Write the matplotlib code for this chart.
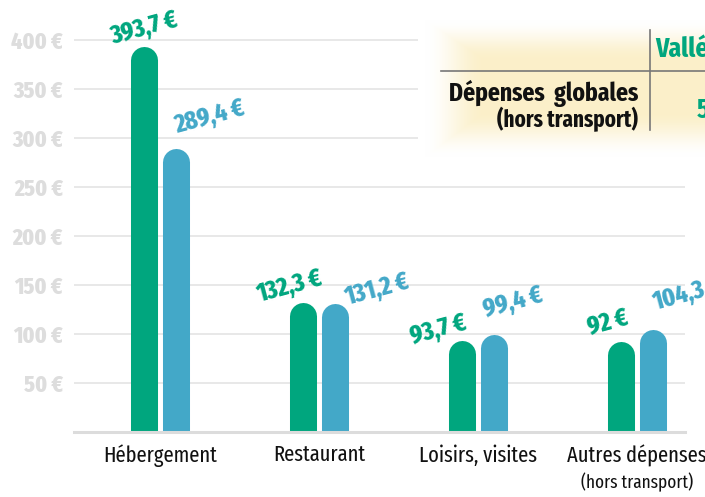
import numpy as np
import matplotlib.pyplot as plt
from matplotlib.lines import Line2D

# data
categories = ['Hébergement', 'Restaurant', 'Loisirs, visites', 'Autres dépenses']
green_vals = [393.7, 132.3, 93.7, 92]
blue_vals = [289.4, 131.2, 99.4, 104.3]
green_txt = ['393,7 €', '132,3 €', '93,7 €', '92 €']
blue_txt = ['289,4 €', '131,2 €', '99,4 €', '104,3 €']
yticks = [50, 100, 150, 200, 250, 300, 350, 400]

GREEN = '#00a67e'
BLUE = '#43a8c8'
plt.rcParams['font.family'] = ['Fira Sans Extra Condensed', 'DejaVu Sans']

fig = plt.figure(figsize=(7.05, 4.97), dpi=100)
ax = fig.add_axes([74 / 705, 65 / 497, 611 / 705, 432 / 497])
ax.set_xlim(-0.541, 3.302)
ax.set_ylim(0, 440.8)
for s in ax.spines.values():
    s.set_visible(False)

# grid + baseline
for t in yticks:
    ax.axhline(t, color='#e2e2e2', lw=1.1, zorder=1)
ax.axhline(0, color='#dcdcdc', lw=2.2, zorder=5, clip_on=False)

ax.set_yticks(yticks)
ax.set_yticklabels([f'{t} €' for t in yticks], fontsize=17, fontweight=800, color='#dddddd')
ax.set_xticks(range(len(categories)))
ax.set_xticklabels(categories, fontsize=16, color='#111111')
ax.tick_params(length=0)
ax.tick_params(axis='y', pad=8)
ax.tick_params(axis='x', pad=9)
ax.annotate('(hors transport)', xy=(3, 0), xytext=(0, -50), textcoords='offset pixels',
            ha='center', va='center', fontsize=13.5, color='#111111', annotation_clip=False)

# rounded bars
bw = 0.17
off = 0.1
x = np.arange(len(categories))
p0 = ax.transData.transform((0, 0))
p1 = ax.transData.transform((1, 1))
xs, ys = p1 - p0
w_px = bw * xs
r_data = (w_px / 2) / ys
lw_pt = w_px * 72 / fig.dpi
for xi, g, b in zip(x, green_vals, blue_vals):
    ax.plot([xi - off, xi - off], [0, g - r_data], color=GREEN, lw=lw_pt,
            solid_capstyle='round', zorder=3)
    ax.plot([xi + off, xi + off], [0, b - r_data], color=BLUE, lw=lw_pt,
            solid_capstyle='round', zorder=3)

# value labels (offsets in pixels)
g_off = [(0, 18), (-14, 16), (-24, 10), (-13, 20)]
b_off = [(34, 31), (42, 14), (19, 32), (34, 36)]
for xi, g, b, gt, bt, go, bo in zip(x, green_vals, blue_vals, green_txt, blue_txt, g_off, b_off):
    ax.annotate(gt, xy=(xi - off, g), xytext=go, textcoords='offset pixels', rotation=15,
                ha='center', va='center', fontsize=18.5, fontweight=800, color=GREEN,
                annotation_clip=False, zorder=6)
    ax.annotate(bt, xy=(xi + off, b), xytext=bo, textcoords='offset pixels', rotation=15,
                ha='center', va='center', fontsize=18.5, fontweight=800, color=BLUE,
                annotation_clip=False, zorder=6)

# table box with soft yellow glow
x0, x1, y0, y1 = 418, 705, 15, 160
tab = fig.add_axes([x0 / 705, (497 - y1) / 497, (x1 - x0) / 705, (y1 - y0) / 497], zorder=10)
tab.set_xlim(x0, x1)
tab.set_ylim(y1, y0)
tab.axis('off')
W, H = x1 - x0, y1 - y0
gx = np.arange(W) + x0 + 0.5
gy = np.arange(H) + y0 + 0.5
XX, YY = np.meshgrid(gx, gy)
d = np.minimum.reduce([(XX - 425) / 60, (YY - 20) / 40, (157 - YY) / 45, np.full_like(XX, 1.0)])
t = np.clip(d, 0, 1)
t = t * t * (3 - 2 * t)
white = np.array([1.0, 1.0, 1.0])
yel = np.array([0.985, 0.94, 0.79])
img = white[None, None, :] * (1 - t[..., None]) + yel[None, None, :] * t[..., None]
tab.imshow(img, extent=(x0, x1, y1, y0), aspect='auto', interpolation='bilinear')
tab.add_line(Line2D([441, 705], [71, 71], color='#777777', lw=1.2))
tab.add_line(Line2D([650, 650], [30, 130], color='#777777', lw=1.2))
tab.text(655, 49, 'Vallée', fontsize=20, fontweight='bold', color=GREEN, va='center', ha='left')
tab.text(638, 93, 'Dépenses  globales', fontsize=18.5, fontweight='bold', color='#111111',
         va='center', ha='right')
tab.text(638, 119, '(hors transport)', fontsize=16.5, fontweight='bold', color='#111111',
         va='center', ha='right')
tab.text(697, 110, '5', fontsize=20, fontweight='bold', color=GREEN, va='center', ha='left')

fig.savefig('out.png', dpi=100)
